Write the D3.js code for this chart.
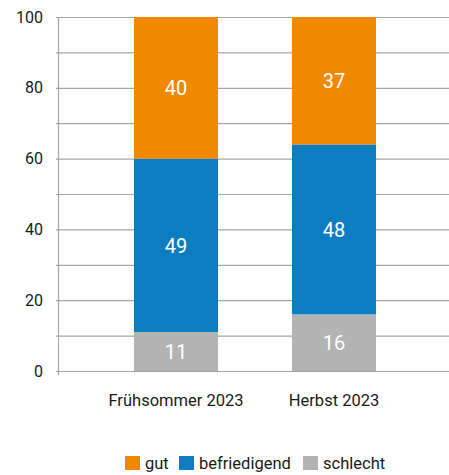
<!DOCTYPE html>
<html>
<head>
<meta charset="utf-8">
<script src="https://cdn.jsdelivr.net/npm/d3@7"></script>
<style>
  body { margin: 0; background: #fff; }
  text { font-family: Roboto, "Noto Sans", sans-serif; }
</style>
</head>
<body>
<div id="chart-area"></div>
<script>
var categories = ["Frühsommer 2023", "Herbst 2023"];
var seriesNames = ["schlecht", "befriedigend", "gut"];
var schlecht = [11, 16];
var befriedigend = [49, 48];
var gut = [40, 37];
var yTicks = [0, 20, 40, 60, 80, 100];
var gridTicks = [0, 10, 20, 30, 40, 50, 60, 70, 80, 90, 100];
var legendOrder = ["gut", "befriedigend", "schlecht"];

var color = d3.scaleOrdinal()
    .domain(seriesNames)
    .range(["#b3b3b3", "#0d7dc2", "#f08800"]);

var width = 449, height = 475;

var svg = d3.select("#chart-area")
  .append("svg")
    .attr("width", width)
    .attr("height", height);

// build table for stacking
var table = categories.map(function(c, i) {
    return {cat: c, schlecht: schlecht[i], befriedigend: befriedigend[i], gut: gut[i]};
});
var stacked = d3.stack().keys(seriesNames)(table);

var x = d3.scaleBand()
    .domain(categories)
    .range([97, 413])
    .paddingInner(0.468)
    .paddingOuter(0.234);

// rounded values may add up to 101 -> clamp at 100
var y = d3.scaleLinear()
    .domain([0, 100])
    .range([371, 17])
    .clamp(true);

// grid lines
svg.append("g")
  .selectAll("line")
  .data(gridTicks)
  .enter()
  .append("line")
    .attr("x1", 56)
    .attr("x2", width)
    .attr("y1", function(d) { return y(d) + 0.5; })
    .attr("y2", function(d) { return y(d) + 0.5; })
    .attr("stroke", "#a6a6a6")
    .attr("stroke-width", 1.2);

// y axis line
svg.append("line")
    .attr("x1", 58.5).attr("x2", 58.5)
    .attr("y1", y(100)).attr("y2", y(0) + 4)
    .attr("stroke", "#a6a6a6")
    .attr("stroke-width", 1.2);

// y labels
svg.append("g")
  .selectAll("text")
  .data(yTicks)
  .enter()
  .append("text")
    .attr("x", 43)
    .attr("y", function(d) { return y(d); })
    .attr("dy", "0.35em")
    .attr("text-anchor", "end")
    .attr("font-size", "16px")
    .attr("fill", "#1a1a1a")
    .text(function(d) { return d; });

// bars
var layers = svg.append("g")
  .selectAll("g")
  .data(stacked)
  .enter()
  .append("g")
    .attr("fill", function(d) { return color(d.key); });

layers.selectAll("rect")
  .data(function(d) { return d; })
  .enter()
  .append("rect")
    .attr("x", function(d) { return x(d.data.cat); })
    .attr("y", function(d) { return y(d[1]); })
    .attr("width", x.bandwidth())
    .attr("height", function(d) { return y(d[0]) - y(d[1]); });

layers.selectAll("text")
  .data(function(d) { return d; })
  .enter()
  .append("text")
    .attr("x", function(d) { return x(d.data.cat) + x.bandwidth() / 2; })
    .attr("y", function(d) { return (y(d[0]) + y(d[1])) / 2; })
    .attr("dy", "0.36em")
    .attr("text-anchor", "middle")
    .attr("font-size", "20px")
    .attr("fill", "#fff")
    .text(function(d) { return d[1] - d[0]; });

// x labels
svg.append("g")
  .selectAll("text")
  .data(categories)
  .enter()
  .append("text")
    .attr("x", function(d) { return x(d) + x.bandwidth() / 2; })
    .attr("y", 406)
    .attr("text-anchor", "middle")
    .attr("font-size", "16.5px")
    .attr("fill", "#1a1a1a")
    .text(function(d) { return d; });

// legend
var legendX = [125, 179, 303];
var legend = svg.append("g")
  .selectAll("g")
  .data(legendOrder)
  .enter()
  .append("g")
    .attr("transform", function(d, i) { return "translate(" + legendX[i] + ",456)"; });

legend.append("rect")
    .attr("width", 15)
    .attr("height", 14)
    .attr("fill", function(d) { return color(d); });

legend.append("text")
    .attr("x", 20)
    .attr("y", 13)
    .attr("font-size", "16.5px")
    .attr("fill", "#1a1a1a")
    .text(function(d) { return d; });
</script>
</body>
</html>
